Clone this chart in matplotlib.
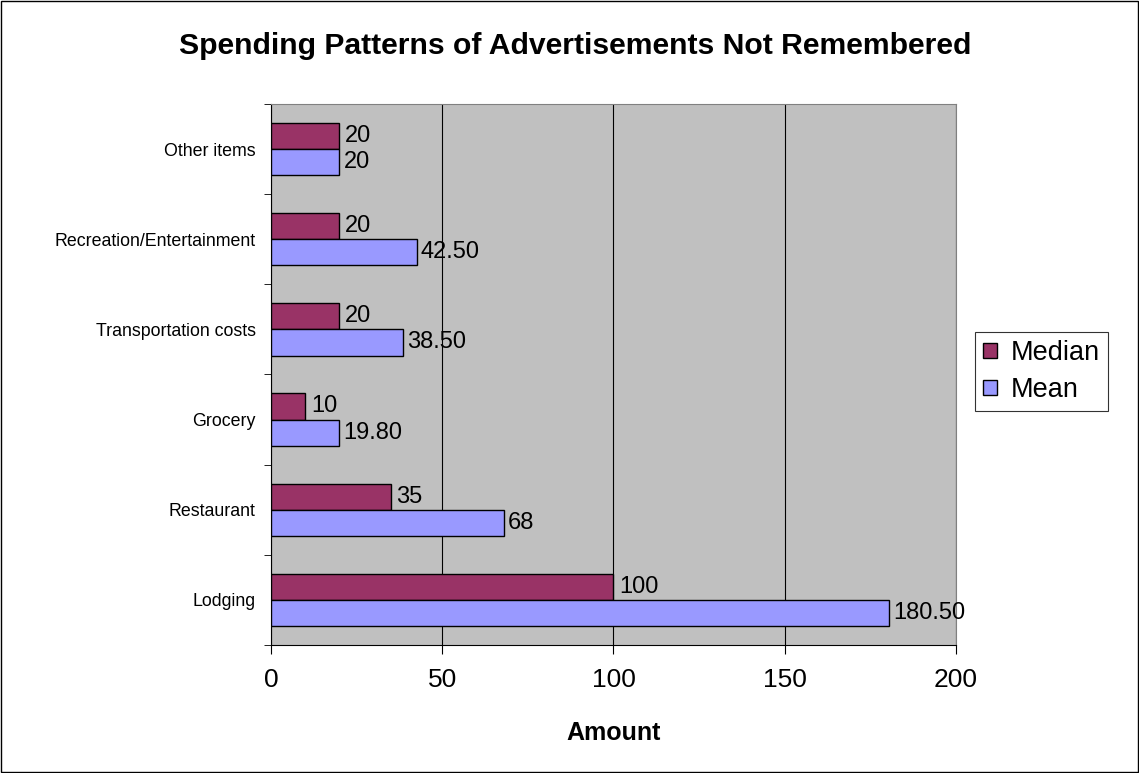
import matplotlib.pyplot as plt
import numpy as np

plt.rcParams['font.family'] = ['Liberation Sans', 'DejaVu Sans']

categories = ["Lodging", "Restaurant", "Grocery", "Transportation costs",
              "Recreation/Entertainment", "Other items"]
median = [100, 35, 10, 20, 20, 20]
mean = [180.5, 68, 19.8, 38.5, 42.5, 20]
median_labels = ["100", "35", "10", "20", "20", "20"]
mean_labels = ["180.50", "68", "19.80", "38.50", "42.50", "20"]

fig = plt.figure(figsize=(11.39, 7.73), dpi=100)
ax = fig.add_axes([0.2379, 0.1656, 0.6014, 0.6999])
ax.set_facecolor('#C0C0C0')

y = np.arange(len(categories))
h = 0.29
b1 = ax.barh(y + h / 2, median, height=h, color='#993366', edgecolor='black', linewidth=1, label='Median', zorder=3)
b2 = ax.barh(y - h / 2, mean, height=h, color='#9999FF', edgecolor='black', linewidth=1, label='Mean', zorder=3)

for yy, v, t in zip(y, median, median_labels):
    ax.annotate(t, (v, yy + h / 2), xytext=(4, 0), textcoords='offset points',
                va='center', ha='left', fontsize=17, zorder=4)
for yy, v, t in zip(y, mean, mean_labels):
    ax.annotate(t, (v, yy - h / 2), xytext=(3, 0), textcoords='offset points',
                va='center', ha='left', fontsize=17, zorder=4)

ax.set_xlim(0, 200)
ax.set_ylim(-0.5, len(categories) - 0.5)
ax.set_xticks([0, 50, 100, 150, 200])
ax.tick_params(axis='x', labelsize=19, direction='out', length=6.5, pad=10)
ax.set_yticks(y)
ax.set_yticklabels(categories, fontsize=12.8)
ax.set_yticks(np.arange(-0.5, len(categories)), minor=True)
ax.tick_params(axis='y', which='major', length=0, pad=11)
ax.tick_params(axis='y', which='minor', length=5, direction='out')
ax.xaxis.grid(True, color='black', linewidth=0.8, zorder=1)
ax.set_axisbelow(True)
for s in ['top', 'right']:
    ax.spines[s].set_color('#808080')
ax.set_xlabel('Amount', fontsize=18, fontweight='bold', labelpad=21)

fig.text(0.505, 0.94, 'Spending Patterns of Advertisements Not Remembered', fontsize=21.7,
         fontweight='bold', ha='center', va='center')

leg = ax.legend(handles=[b1, b2], loc='center left', bbox_to_anchor=(1.028, 0.505),
                fontsize=19.5, frameon=True, fancybox=False, edgecolor='black',
                handlelength=0.5, handleheight=0.5, handletextpad=0.5,
                borderpad=0.3, labelspacing=0.4, borderaxespad=0)
leg.get_frame().set_linewidth(0.8)

fig.patches.append(plt.Rectangle((0.001, 0.001), 0.998, 0.998, transform=fig.transFigure,
                                 fill=False, edgecolor='black', linewidth=1))

fig.savefig('out.png', dpi=100)
